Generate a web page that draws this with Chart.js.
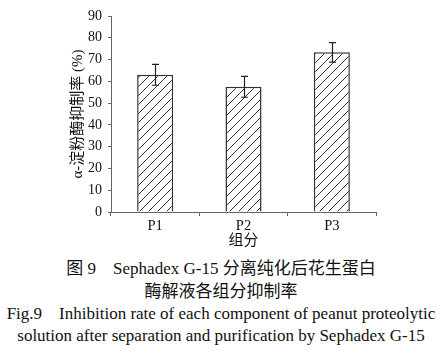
<!DOCTYPE html>
<html><head><meta charset="utf-8">
<script src="https://cdn.jsdelivr.net/npm/chart.js@4/dist/chart.umd.min.js"></script>
<style>
html,body{margin:0;padding:0;background:#fff;}
#wrap{position:relative;width:442px;height:355px;overflow:hidden;}
#c{position:absolute;left:0;top:0;}
.cap{position:absolute;left:0;width:442px;text-align:center;color:#111;font-family:"Liberation Serif","Noto Sans CJK SC",serif;font-size:17px;line-height:22px;white-space:nowrap;}
</style></head><body>
<div id="wrap">
<canvas id="c" width="442" height="255" style="width:442px;height:255px"></canvas>
<div class="cap" style="top:258px">图 9&nbsp;&nbsp;&nbsp;&nbsp;Sephadex G-15 分离纯化后花生蛋白</div>
<div class="cap" style="top:281px">酶解液各组分抑制率</div>
<div class="cap" style="top:303px">Fig.9&nbsp;&nbsp;&nbsp;&nbsp;Inhibition rate of each component of peanut proteolytic</div>
<div class="cap" style="top:325px">solution after separation and purification by Sephadex G-15</div>
</div>
<script>
const categories = ["P1", "P2", "P3"];
const inhibition = [63.0, 57.5, 73.3];
const errors = [4.8, 4.8, 4.5];
const yTicksMax = 90;
const yTitle = "α-淀粉酶抑制率 (%)";
const xTitle = "组分";

// hatch pattern
const pc = document.createElement('canvas');
pc.width = 9; pc.height = 9;
const px = pc.getContext('2d');
px.fillStyle = '#fff'; px.fillRect(0,0,9,9);
px.strokeStyle = '#333'; px.lineWidth = 1;
px.beginPath();
px.moveTo(-1,10); px.lineTo(10,-1);
px.moveTo(-1,1); px.lineTo(1,-1);
px.moveTo(8,10); px.lineTo(10,8);
px.stroke();
const ctx = document.getElementById('c').getContext('2d');
const hatch = ctx.createPattern(pc, 'repeat');

const errorBars = {
  id: 'errorBars',
  afterDatasetsDraw(chart) {
    const c = chart.ctx;
    const meta = chart.getDatasetMeta(0);
    const ys = chart.scales.y;
    c.save();
    c.strokeStyle = '#222'; c.lineWidth = 1.2;
    meta.data.forEach((bar, i) => {
      const x = Math.round(bar.x) + 0.5;
      const top = ys.getPixelForValue(inhibition[i] + errors[i]);
      const bot = ys.getPixelForValue(inhibition[i] - errors[i]);
      c.beginPath();
      c.moveTo(x, top); c.lineTo(x, bot);
      c.moveTo(x - 3.5, top); c.lineTo(x + 3.5, top);
      c.moveTo(x - 3.5, bot); c.lineTo(x + 3.5, bot);
      c.stroke();
    });
    c.restore();
  }
};

const serif = "'Liberation Serif', 'Noto Sans CJK SC', serif";
new Chart(ctx, {
  type: 'bar',
  data: {
    labels: categories,
    datasets: [{
      data: inhibition,
      backgroundColor: hatch,
      borderColor: '#333',
      borderWidth: 1.5,
      categoryPercentage: 1,
      barPercentage: 0.408
    }]
  },
  options: {
    responsive: false,
    animation: false,
    layout: { padding: { top: 16, right: 66, bottom: 0, left: 0 } },
    plugins: { legend: { display: false }, tooltip: { enabled: false } },
    scales: {
      x: {
        offset: true,
        grid: { display: true, offset: true, drawOnChartArea: false, drawTicks: true, tickLength: 4, color: '#666', lineWidth: 1 },
        border: { display: true, color: '#666', width: 1 },
        ticks: { color: '#111', font: { family: serif, size: 14.5 }, padding: 1 },
        title: { display: true, text: xTitle, color: '#111', font: { family: serif, size: 15 }, padding: { top: 0, bottom: 5 } },
        afterFit(s) { s.height = 43; }
      },
      y: {
        min: 0, max: yTicksMax,
        ticks: { stepSize: 10, color: '#111', font: { family: serif, size: 14 }, padding: 6 },
        grid: { display: true, drawOnChartArea: false, drawTicks: true, tickLength: 3, color: '#666' },
        border: { display: true, color: '#666', width: 1 },
        title: { display: true, text: yTitle, color: '#111', font: { family: serif, size: 15 }, padding: { top: 69, bottom: 0 } },
        afterFit(s) { s.width = 111; }
      }
    }
  },
  plugins: [errorBars]
});
</script>
</body></html>
